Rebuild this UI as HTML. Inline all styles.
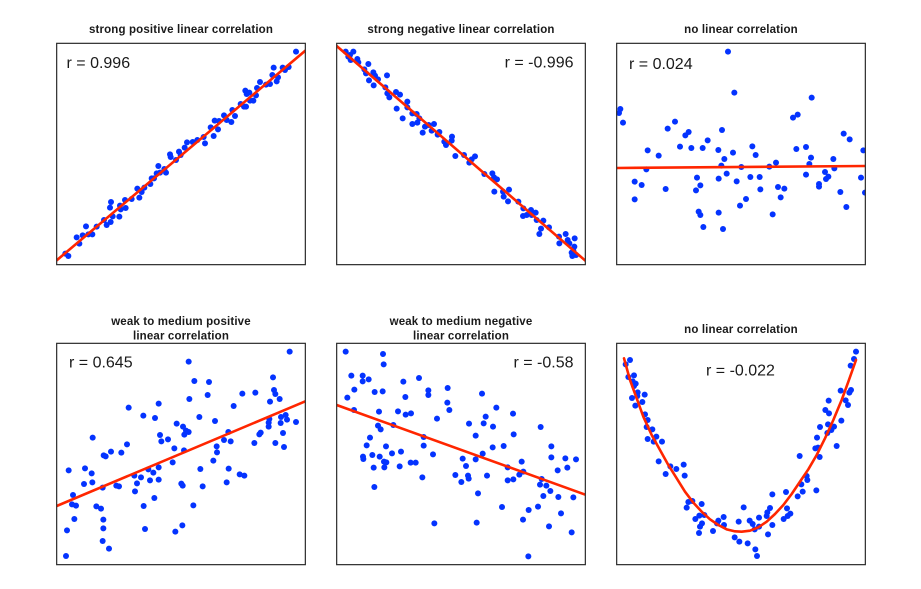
<!DOCTYPE html>
<html>
<head>
<meta charset="utf-8">
<title>Correlation examples</title>
<style>
html,body{margin:0;padding:0;background:#fff;width:921px;height:589px;overflow:hidden}
svg{display:block}
text{font-family:"Liberation Sans",sans-serif;fill:#1a1a1a}
.t{font-size:11.5px;font-weight:bold;text-anchor:middle;letter-spacing:.15px}
.r{font-size:16px}
.f{fill:none;stroke:#2b2b2b;stroke-width:1.2}
</style>
</head>
<body>
<svg id="chart" width="921" height="589" viewBox="0 0 921 589" xmlns="http://www.w3.org/2000/svg">
  <defs>
    <clipPath id="c0"><rect x="56.67" y="43.33" width="248.67" height="221.33"/></clipPath>
    <clipPath id="c1"><rect x="336.67" y="43.33" width="248.67" height="221.33"/></clipPath>
    <clipPath id="c2"><rect x="616.67" y="43.33" width="248.67" height="221.33"/></clipPath>
    <clipPath id="c3"><rect x="56.67" y="343.33" width="248.67" height="221.33"/></clipPath>
    <clipPath id="c4"><rect x="336.67" y="343.33" width="248.67" height="221.33"/></clipPath>
    <clipPath id="c5"><rect x="616.67" y="343.33" width="248.67" height="221.33"/></clipPath>
  </defs>
  <text class="t" x="181" y="33">strong positive linear correlation</text>
  <text class="t" x="461" y="33">strong negative linear correlation</text>
  <text class="t" x="741" y="33">no linear correlation</text>
  <text class="t" x="181" y="325">weak to medium positive</text>
  <text class="t" x="181" y="339.5">linear correlation</text>
  <text class="t" x="461" y="325">weak to medium negative</text>
  <text class="t" x="461" y="339.5">linear correlation</text>
  <text class="t" x="741" y="333">no linear correlation</text>
  <g id="marks"></g>
  <rect class="f" x="56.67" y="43.33" width="248.67" height="221.33"/>
  <rect class="f" x="336.67" y="43.33" width="248.67" height="221.33"/>
  <rect class="f" x="616.67" y="43.33" width="248.67" height="221.33"/>
  <rect class="f" x="56.67" y="343.33" width="248.67" height="221.33"/>
  <rect class="f" x="336.67" y="343.33" width="248.67" height="221.33"/>
  <rect class="f" x="616.67" y="343.33" width="248.67" height="221.33"/>
  <text class="r" x="66.5" y="68">r = 0.996</text>
  <text class="r" x="573.5" y="67.5" text-anchor="end">r = -0.996</text>
  <text class="r" x="629" y="69">r = 0.024</text>
  <text class="r" x="69" y="367.5">r = 0.645</text>
  <text class="r" x="573.5" y="367.5" text-anchor="end">r = -0.58</text>
  <text class="r" x="706" y="375.5">r = -0.022</text>
</svg>
<script>
const xMax = 746;
const yMax = 664;

const p1X = [35,26,68,60,78,88,95,107,120,142,150,162,168,188,160,163,190,192,207,205,225,248,242,255,263,281,285,292,300,305,310,323,328,340,342,358,367,372,384,391,408,422,441,445,462,471,474,484,487,502,510,524,527,535,552,562,568,566,570,578,580,590,598,601,610,628,640,651,647,660,664,678,685,696,718];
const p1Y = [26,33,63,82,88,115,91,91,114,134,119,128,145,144,171,188,177,166,170,194,197,201,228,218,231,242,259,259,274,296,276,287,276,331,323,314,339,329,351,367,368,374,383,364,412,386,432,406,431,448,434,428,464,446,482,474,474,522,512,516,492,492,508,530,548,540,542,591,569,550,562,591,584,593,639];
const p1FitX = [0,746];
const p1FitY = [13,642];

const p2X = [27,35,42,50,40,62,65,95,83,88,110,115,97,111,124,151,146,152,158,178,190,180,212,212,198,227,240,248,227,242,265,258,276,292,285,308,303,323,328,346,345,356,382,398,405,415,443,467,472,481,473,499,501,517,514,545,560,559,570,583,585,597,600,620,613,608,637,667,668,687,693,698,714,713,705,707,718,710];
const p2Y = [639,624,614,639,629,617,607,602,586,574,577,567,553,538,556,568,532,514,502,518,510,468,489,472,439,454,452,439,422,426,414,396,419,422,402,398,390,369,359,384,372,326,329,306,316,325,272,274,262,256,219,219,204,225,190,189,169,146,149,164,149,156,134,132,108,92,112,84,64,92,74,64,79,54,36,26,29,42];
const p2FitX = [0,746];
const p2FitY = [656,12];

const p3X = [334,353,585,543,529,11,7,19,175,153,316,216,206,273,681,699,190,224,258,305,407,539,568,740,93,126,349,417,323,583,650,478,578,314,374,458,89,653,625,330,568,635,628,733,401,429,241,306,360,54,75,251,607,607,484,503,147,238,431,671,745,54,388,492,370,689,246,251,306,468,260,319];
const p3Y = [639,516,501,450,441,467,455,426,429,408,404,398,388,373,393,376,354,350,350,344,355,347,353,343,343,327,336,329,317,321,317,306,302,297,293,294,286,289,278,273,270,264,257,261,263,263,261,258,250,249,239,238,242,234,233,228,227,223,226,218,216,196,197,202,177,173,159,149,156,151,113,107];
const p3FitX = [0,746];
const p3FitY = [290,296];

const p4X = [699,396,649,413,457,652,656,596,557,453,669,398,640,306,531,216,260,295,428,687,673,691,672,718,638,636,636,475,360,379,388,396,383,310,334,314,612,608,679,515,108,502,522,593,656,211,480,682,353,382,481,163,194,141,147,470,348,85,36,105,306,275,290,431,516,549,563,233,253,280,306,82,107,241,374,378,438,510,179,187,138,235,49,293,46,58,119,133,261,410,53,140,31,140,265,356,377,138,157,28];
const p4Y = [639,609,562,551,548,524,512,516,513,509,497,497,489,483,476,471,447,440,443,449,443,435,425,428,437,426,414,431,423,414,402,398,390,389,376,370,396,391,395,398,381,374,370,365,365,361,355,353,349,343,337,339,336,328,325,312,307,289,283,274,292,286,276,287,288,271,267,267,262,253,255,242,247,244,243,237,235,247,237,235,231,220,209,200,181,177,175,168,176,178,137,135,103,109,107,99,118,71,48,26];
const p4FitX = [0,746];
const p4FitY = [176,490];

const p5X = [27,139,141,44,78,78,96,200,247,53,114,138,275,275,333,32,206,436,332,52,127,184,207,223,338,479,529,447,301,397,441,469,124,132,170,612,100,261,417,531,90,148,261,468,501,644,193,166,107,129,79,80,289,438,378,417,644,686,718,142,149,222,237,555,388,111,143,189,513,692,663,560,548,356,451,394,396,257,374,513,530,615,610,629,641,113,424,620,665,710,496,576,604,673,559,293,420,637,705,575];
const p5Y = [639,632,601,567,567,550,556,549,560,525,518,520,523,509,530,501,503,513,486,464,459,460,450,454,464,471,453,444,438,423,424,414,417,406,419,413,381,383,387,391,358,355,357,352,356,355,339,334,329,324,324,317,331,333,318,316,322,319,316,309,307,306,306,309,296,291,292,295,292,291,283,279,270,269,267,267,258,262,248,253,256,257,240,237,221,233,214,206,203,202,173,164,174,154,135,124,126,115,97,25];
const p5FitX = [0,746];
const p5FitY = [479,210];

const p6X = [718,712,702,40,27,35,52,48,57,52,63,46,62,84,77,56,85,93,90,107,93,119,111,136,126,161,179,201,147,204,227,215,210,255,236,248,263,256,250,247,289,305,301,321,322,366,381,354,368,393,416,421,399,408,414,427,427,450,452,460,467,454,467,508,511,501,513,521,543,554,558,570,572,599,549,596,604,609,601,610,634,652,632,644,626,637,636,660,674,672,703,698,687,694];
const p6Y = [639,617,597,614,601,563,568,550,543,536,517,500,506,510,488,477,451,434,413,406,377,384,369,369,310,295,287,300,272,267,191,188,171,182,137,147,149,124,114,95,101,132,124,143,119,129,172,82,69,64,46,26,132,122,106,141,114,146,157,170,211,91,119,218,169,137,146,153,205,241,219,266,254,223,326,349,351,323,381,413,421,414,395,404,464,454,492,356,432,522,524,516,493,479];
const p6FitX = [22,40,60,80,105,130,155,180,205,230,255,280,305,330,355,375,400,425,450,475,500,525,550,575,600,625,650,675,695,718];
const p6FitY = [619,554,499,444,389,344,299,259,219,186,159,136,119,106,100,99,102,112,129,152,179,212,249,286,329,379,434,494,549,614];

const panels = [
  {left:56.67, top:43.33, xs:p1X, ys:p1Y, fx:p1FitX, fy:p1FitY},
  {left:336.67, top:43.33, xs:p2X, ys:p2Y, fx:p2FitX, fy:p2FitY},
  {left:616.67, top:43.33, xs:p3X, ys:p3Y, fx:p3FitX, fy:p3FitY},
  {left:56.67, top:343.33, xs:p4X, ys:p4Y, fx:p4FitX, fy:p4FitY},
  {left:336.67, top:343.33, xs:p5X, ys:p5Y, fx:p5FitX, fy:p5FitY},
  {left:616.67, top:343.33, xs:p6X, ys:p6Y, fx:p6FitX, fy:p6FitY}
];
const plotW = 248.67;
const plotH = 221.33;
const NS = 'http://www.w3.org/2000/svg';
const root = document.getElementById('marks');

function xScale(panel, v){ return panel.left + v / xMax * plotW; }
function yScale(panel, v){ return panel.top + plotH - v / yMax * plotH; }

panels.forEach(function(panel, i){
  const g = document.createElementNS(NS, 'g');
  g.setAttribute('clip-path', 'url(#c' + i + ')');
  
  
  root.appendChild(g);
  const n = Math.min(panel.xs.length, panel.ys.length);
  for (let k = 0; k < n; k++) {
    const dot = document.createElementNS(NS, 'circle');
    dot.setAttribute('cx', xScale(panel, panel.xs[k]).toFixed(2));
    dot.setAttribute('cy', yScale(panel, panel.ys[k]).toFixed(2));
    dot.setAttribute('r', '3');
    dot.setAttribute('fill', '#0433ff');
    
    
    g.appendChild(dot);
  }
  const pts = panel.fx.map(function(v, k){
    return xScale(panel, v).toFixed(2) + ',' + yScale(panel, panel.fy[k]).toFixed(2);
  }).join(' ');
  const fit = document.createElementNS(NS, 'polyline');
  fit.setAttribute('points', pts);
  fit.setAttribute('fill', 'none');
  fit.setAttribute('stroke', '#ff2600');
  fit.setAttribute('stroke-width', '2.6');
  fit.setAttribute('stroke-linejoin', 'round');
  fit.setAttribute('stroke-linecap', 'round');
  
  
  g.appendChild(fit);
});
</script>
</body>
</html>
